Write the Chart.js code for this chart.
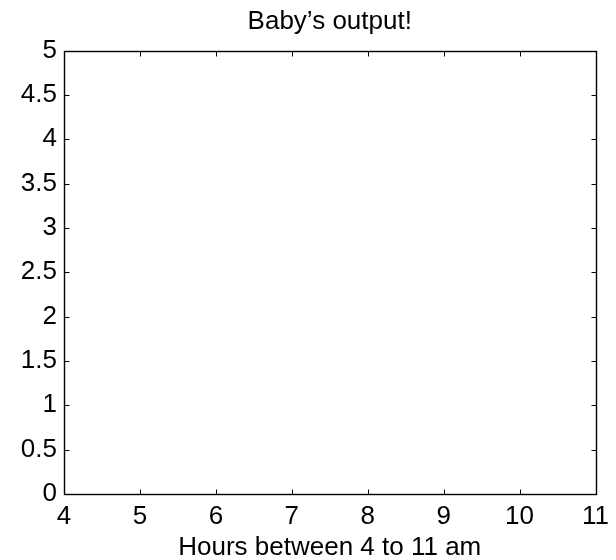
<!DOCTYPE html>
<html>
<head>
<meta charset="utf-8">
<script src="https://cdn.jsdelivr.net/npm/chart.js@4/dist/chart.umd.min.js"></script>
<style>
html,body{margin:0;padding:0;background:#fff;}
canvas{display:block;}
</style>
</head>
<body>
<canvas id="c" width="616" height="560"></canvas>
<script>
// Data (the reference plot is empty: no points were drawn)
const hours = [];
const output = [];
const xTickValues = [4, 5, 6, 7, 8, 9, 10, 11];
const yTickValues = [0, 0.5, 1, 1.5, 2, 2.5, 3, 3.5, 4, 4.5, 5];
const xTickLabels = ['4', '5', '6', '7', '8', '9', '10', '11'];
const yTickLabels = ['0', '0.5', '1', '1.5', '2', '2.5', '3', '3.5', '4', '4.5', '5'];
const titleText = 'Baby\u2019s output!';
const xTitleText = 'Hours between 4 to 11 am';

const FONT = '"Liberation Sans", Arial, Helvetica, sans-serif';

const boxPlugin = {
  id: 'matlabBox',
  afterDraw(chart) {
    const ctx = chart.ctx;
    const a = chart.chartArea;
    const xs = chart.scales.x, ys = chart.scales.y;
    const L = Math.round(a.left) + 0.5, R = Math.round(a.right) + 0.5;
    const T = Math.round(a.top) + 0.5, B = Math.round(a.bottom) + 0.5;
    ctx.save();
    ctx.strokeStyle = '#000';
    ctx.lineWidth = 1;
    ctx.beginPath();
    const tl = 5;
    xs.ticks.forEach(t => {
      const px = Math.round(xs.getPixelForValue(t.value)) + 0.5;
      ctx.moveTo(px, B); ctx.lineTo(px, B - tl);
      ctx.moveTo(px, T); ctx.lineTo(px, T + tl);
    });
    ys.ticks.forEach(t => {
      const py = Math.round(ys.getPixelForValue(t.value)) + 0.5;
      ctx.moveTo(L, py); ctx.lineTo(L + tl, py);
      ctx.moveTo(R, py); ctx.lineTo(R - tl, py);
    });
    ctx.stroke();
    ctx.lineWidth = 1.4;
    ctx.strokeRect(L, T, R - L, B - T);
    ctx.restore();
  }
};

new Chart(document.getElementById('c'), {
  type: 'scatter',
  data: {
    datasets: [{
      label: 'output',
      data: hours.map((h, i) => ({x: h, y: output[i]})),
      borderColor: '#0000ff',
      backgroundColor: '#0000ff'
    }]
  },
  options: {
    responsive: false,
    animation: false,
    layout: {padding: {left: 0, right: 19, top: 0, bottom: 0}},
    plugins: {
      legend: {display: false},
      tooltip: {enabled: false},
      title: {
        display: true,
        fullSize: false,
        text: titleText,
        color: '#000',
        font: {family: FONT, size: 26, weight: 'normal', lineHeight: 1.2},
        padding: {top: 6, bottom: 13.3}
      }
    },
    scales: {
      x: {
        type: 'linear',
        min: 4, max: 11,
        afterBuildTicks(s) { s.ticks = xTickValues.map(v => ({value: v})); },
        afterFit(s) { s.height = 66; },
        grid: {display: false, drawTicks: false},
        border: {display: false},
        ticks: {
          color: '#000',
          padding: 7,
          maxRotation: 0,
          font: {family: FONT, size: 26},
          callback: (v) => xTickLabels[xTickValues.indexOf(v)]
        },
        title: {
          display: true,
          text: xTitleText,
          color: '#000',
          font: {family: FONT, size: 26, lineHeight: 0.95},
          padding: {top: 0, bottom: 0}
        }
      },
      y: {
        type: 'linear',
        min: 0, max: 5,
        afterBuildTicks(s) { s.ticks = yTickValues.map(v => ({value: v})); },
        afterFit(s) { s.width = 64; },
        grid: {display: false, drawTicks: false},
        border: {display: false},
        ticks: {
          color: '#000',
          padding: 7,
          font: {family: FONT, size: 26},
          callback: (v) => yTickLabels[yTickValues.indexOf(v)]
        }
      }
    }
  },
  plugins: [boxPlugin]
});
</script>
</body>
</html>
